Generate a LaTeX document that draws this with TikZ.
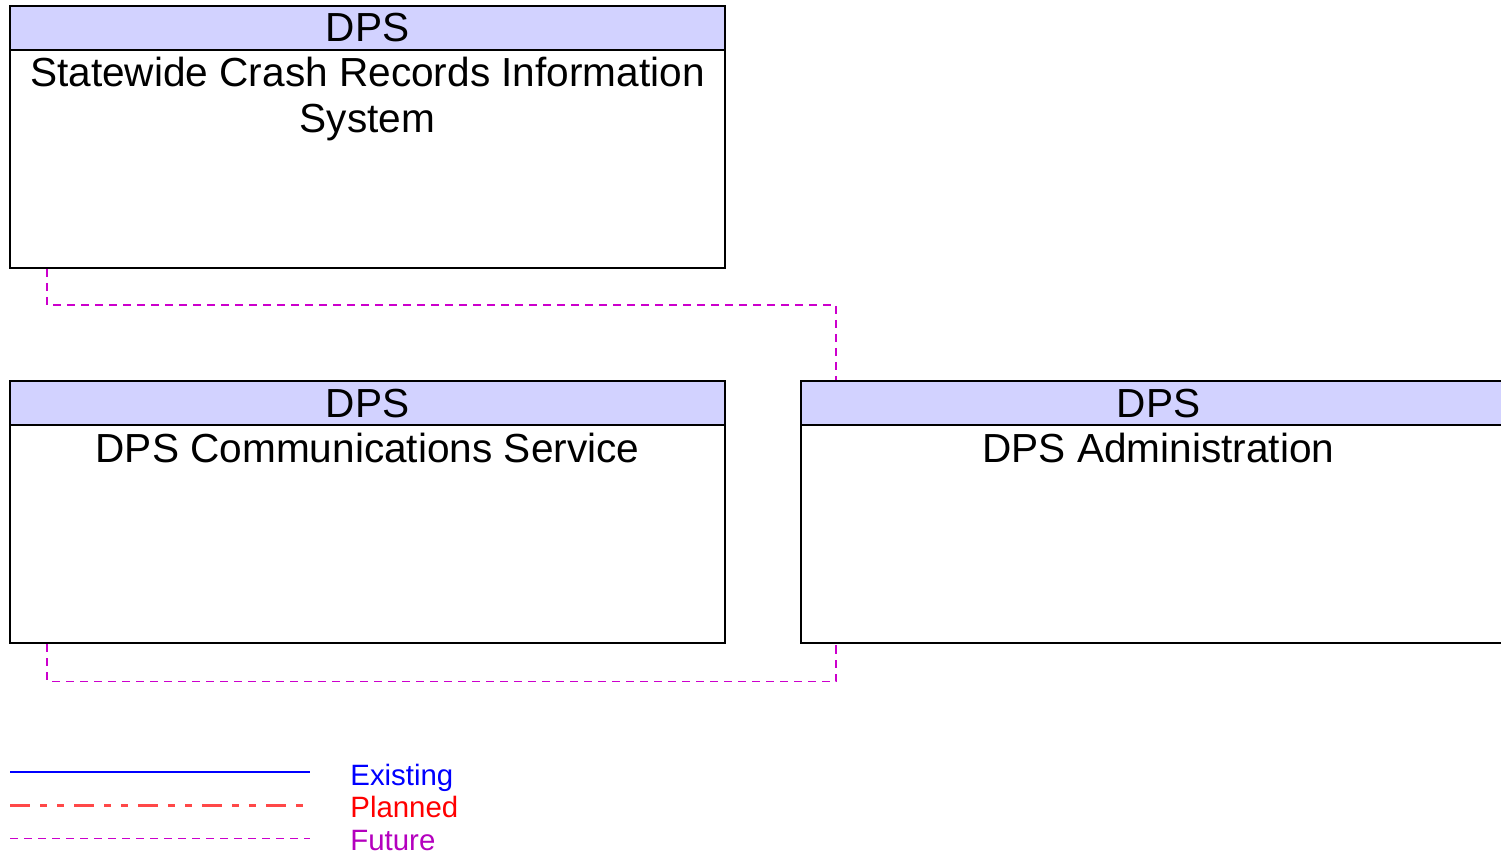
\documentclass[tikz,border=0pt]{standalone}
\usepackage{fontspec}
\setmainfont{Liberation Sans}
\usetikzlibrary{positioning,calc}
\definecolor{chead}{RGB}{210,210,255}
\definecolor{cfuture}{RGB}{204,0,204}
\definecolor{cfuturetxt}{RGB}{180,0,190}
\definecolor{cplan}{HTML}{FF4848}

\begin{document}
\begin{tikzpicture}[x=0.5pt,y=-0.5pt,font=\fontsize{20.3}{23}\selectfont]
  \tikzstyle{sysbox}=[draw,line width=1pt,minimum width=357.5pt,minimum height=131pt,inner sep=0pt]
  \tikzstyle{head}=[draw,line width=1pt,fill=chead,minimum width=357.5pt,minimum height=22pt,inner sep=0pt]
  \tikzstyle{title}=[align=center,inner sep=0pt]
  \tikzstyle{future}=[draw=cfuture,line width=0.8pt,dash pattern=on 4pt off 3pt]
  \tikzstyle{planned}=[draw=cplan,line width=1.1pt,dash pattern=on 10pt off 5pt on 3.5pt off 5pt on 3.5pt off 5pt]
  \tikzstyle{legtext}=[anchor=base west,inner sep=0pt,font=\fontsize{14.7}{17}\selectfont]

  \useasboundingbox (0,0) rectangle (1501,855);
  \clip (0,0) rectangle (1501,855);

  % crash records
  \node[sysbox] (crs) at (367.5,137) {};
  \node[head,anchor=north] (crshd) at (crs.north) {DPS};
  \node[title,below=3pt of crshd] (crstl) {Statewide Crash Records Information\\System};
  % communications service
  \node[sysbox] (dcs) at (367.5,512.5) {};
  \node[head,anchor=north] (dcshd) at (dcs.north) {DPS};
  \node[title,below=3pt of dcshd] (dcstl) {DPS Communications Service};
  % administration
  \node[sysbox] (adm) at (1158.5,512.5) {};
  \node[head,anchor=north] (admhd) at (adm.north) {DPS};
  \node[title,below=3pt of admhd] (admtl) {DPS Administration};

  \draw[future] ([xshift=19pt]crs.south west) -- ++(0,36) -| ([xshift=18pt]adm.north west);
  \draw[future] ([xshift=19pt]dcs.south west) -- ++(0,37) -| ([xshift=18pt]adm.south west);

  % legend
  \node[legtext,text=blue] (lex) at (350,785) {Existing};
  \node[legtext,text=red] (lpl) at (350,817.5) {Planned};
  \node[legtext,text=cfuturetxt] (lfu) at (350,850) {Future};
  \coordinate (ex0) at (10,772);
  \coordinate (pl0) at (10,805.5);
  \coordinate (fu0) at (10,838.5);
  \draw[blue,line width=1.2pt] (ex0) -- ++(300,0);
  \draw[planned] (pl0) -- ++(300,0);
  \draw[future] (fu0) -- ++(300,0);
\end{tikzpicture}
\end{document}
